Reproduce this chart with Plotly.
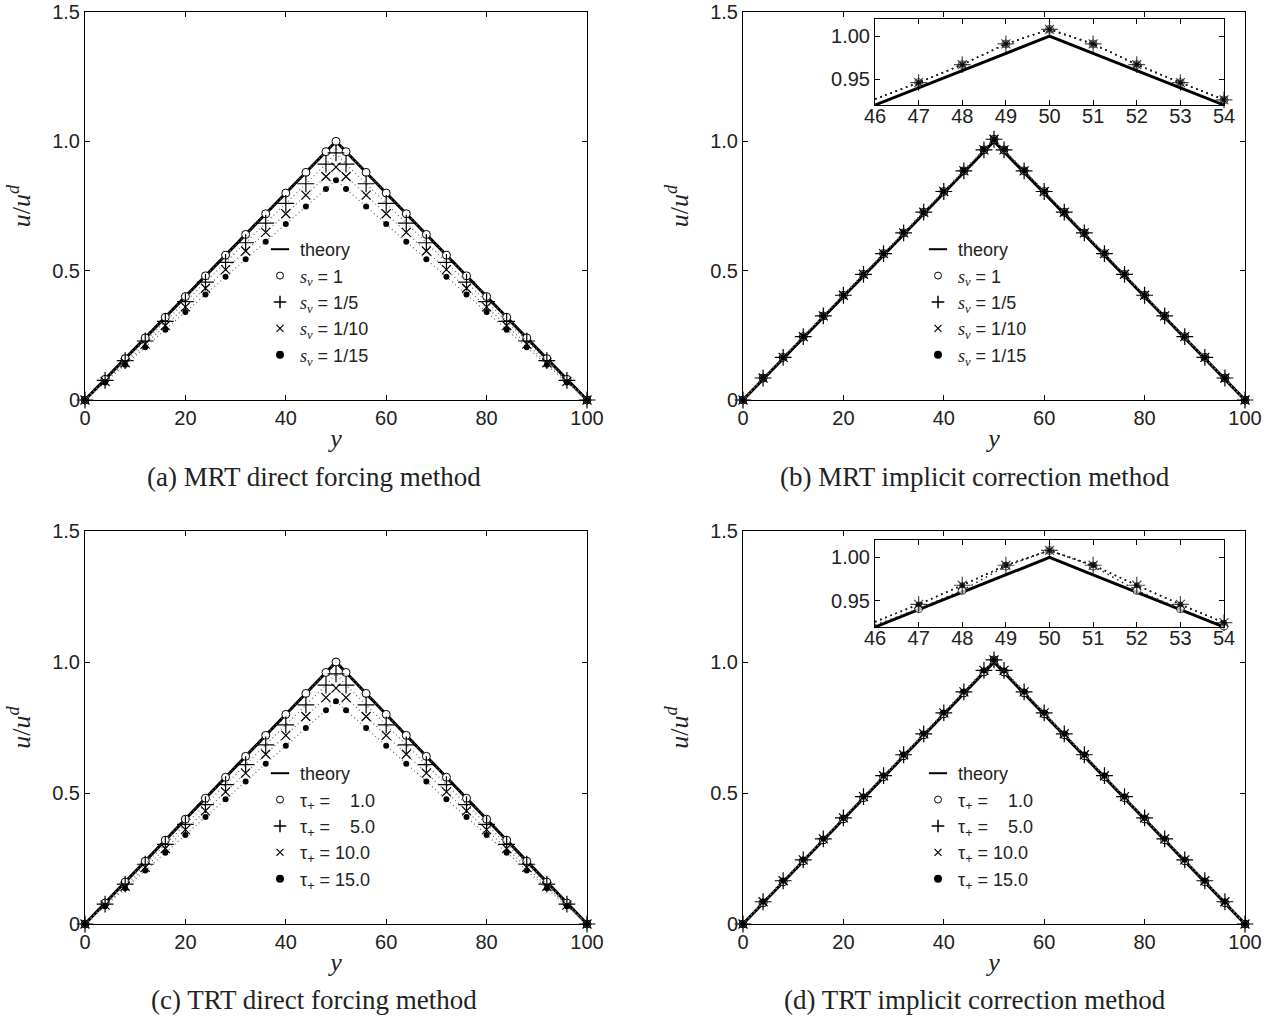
import plotly.graph_objects as go

# ---------------- data ----------------
# channel positions sampled in the main panels
Y = [0, 4, 8, 12, 16, 20, 24, 28, 32, 36, 40, 44, 48, 50, 52,
     56, 60, 64, 68, 72, 76, 80, 84, 88, 92, 96, 100]

theory = [0, 0.08, 0.16, 0.24, 0.32, 0.40, 0.48, 0.56, 0.64, 0.72, 0.80, 0.88, 0.96, 1.00, 0.96,
          0.88, 0.80, 0.72, 0.64, 0.56, 0.48, 0.40, 0.32, 0.24, 0.16, 0.08, 0]

# (a) MRT direct forcing
mrt_df_s1 = [0, 0.080, 0.160, 0.240, 0.320, 0.400, 0.480, 0.560, 0.640, 0.720, 0.800, 0.880, 0.960, 1.000, 0.960,
             0.880, 0.800, 0.720, 0.640, 0.560, 0.480, 0.400, 0.320, 0.240, 0.160, 0.080, 0]
mrt_df_s5 = [0, 0.076, 0.152, 0.228, 0.304, 0.380, 0.456, 0.532, 0.608, 0.684, 0.760, 0.836, 0.912, 0.955, 0.912,
             0.836, 0.760, 0.684, 0.608, 0.532, 0.456, 0.380, 0.304, 0.228, 0.152, 0.076, 0]
mrt_df_s10 = [0, 0.072, 0.144, 0.216, 0.288, 0.360, 0.432, 0.504, 0.576, 0.648, 0.720, 0.792, 0.864, 0.900, 0.864,
              0.792, 0.720, 0.648, 0.576, 0.504, 0.432, 0.360, 0.288, 0.216, 0.144, 0.072, 0]
mrt_df_s15 = [0, 0.068, 0.136, 0.204, 0.272, 0.340, 0.408, 0.476, 0.544, 0.612, 0.680, 0.748, 0.816, 0.850, 0.816,
              0.748, 0.680, 0.612, 0.544, 0.476, 0.408, 0.340, 0.272, 0.204, 0.136, 0.068, 0]

# (b) MRT implicit correction
mrt_ic_s1 = [0, 0.085, 0.165, 0.245, 0.325, 0.405, 0.486, 0.566, 0.646, 0.726, 0.806, 0.886, 0.967, 1.008, 0.967,
             0.886, 0.806, 0.726, 0.646, 0.566, 0.486, 0.405, 0.325, 0.245, 0.165, 0.085, 0]
mrt_ic_s5 = [0, 0.085, 0.165, 0.245, 0.325, 0.405, 0.486, 0.566, 0.646, 0.726, 0.806, 0.886, 0.967, 1.008, 0.967,
             0.886, 0.806, 0.726, 0.646, 0.566, 0.486, 0.405, 0.325, 0.245, 0.165, 0.085, 0]
mrt_ic_s10 = [0, 0.085, 0.165, 0.245, 0.325, 0.405, 0.486, 0.566, 0.646, 0.726, 0.806, 0.886, 0.967, 1.008, 0.967,
              0.886, 0.806, 0.726, 0.646, 0.566, 0.486, 0.405, 0.325, 0.245, 0.165, 0.085, 0]
mrt_ic_s15 = [0, 0.085, 0.165, 0.245, 0.325, 0.405, 0.486, 0.566, 0.646, 0.726, 0.806, 0.886, 0.967, 1.008, 0.967,
              0.886, 0.806, 0.726, 0.646, 0.566, 0.486, 0.405, 0.325, 0.245, 0.165, 0.085, 0]

# (c) TRT direct forcing
trt_df_t1 = [0, 0.080, 0.160, 0.240, 0.320, 0.400, 0.480, 0.560, 0.640, 0.720, 0.800, 0.880, 0.960, 1.000, 0.960,
             0.880, 0.800, 0.720, 0.640, 0.560, 0.480, 0.400, 0.320, 0.240, 0.160, 0.080, 0]
trt_df_t5 = [0, 0.076, 0.152, 0.228, 0.304, 0.380, 0.456, 0.532, 0.608, 0.684, 0.760, 0.836, 0.912, 0.955, 0.912,
             0.836, 0.760, 0.684, 0.608, 0.532, 0.456, 0.380, 0.304, 0.228, 0.152, 0.076, 0]
trt_df_t10 = [0, 0.072, 0.144, 0.216, 0.288, 0.360, 0.432, 0.504, 0.576, 0.648, 0.720, 0.792, 0.864, 0.900, 0.864,
              0.792, 0.720, 0.648, 0.576, 0.504, 0.432, 0.360, 0.288, 0.216, 0.144, 0.072, 0]
trt_df_t15 = [0, 0.068, 0.136, 0.204, 0.272, 0.340, 0.408, 0.476, 0.544, 0.612, 0.680, 0.748, 0.816, 0.850, 0.816,
              0.748, 0.680, 0.612, 0.544, 0.476, 0.408, 0.340, 0.272, 0.204, 0.136, 0.068, 0]

# (d) TRT implicit correction
trt_ic_t1 = [0, 0.081, 0.161, 0.241, 0.321, 0.401, 0.482, 0.562, 0.642, 0.722, 0.802, 0.882, 0.962, 1.008, 0.962,
             0.882, 0.802, 0.722, 0.642, 0.562, 0.482, 0.401, 0.321, 0.241, 0.161, 0.081, 0]
trt_ic_t5 = [0, 0.085, 0.165, 0.245, 0.325, 0.405, 0.486, 0.566, 0.646, 0.726, 0.806, 0.886, 0.968, 1.008, 0.968,
             0.886, 0.806, 0.726, 0.646, 0.566, 0.486, 0.405, 0.325, 0.245, 0.165, 0.085, 0]
trt_ic_t10 = [0, 0.085, 0.165, 0.245, 0.325, 0.405, 0.486, 0.566, 0.646, 0.726, 0.806, 0.886, 0.968, 1.008, 0.968,
              0.886, 0.806, 0.726, 0.646, 0.566, 0.486, 0.405, 0.325, 0.245, 0.165, 0.085, 0]
trt_ic_t15 = [0, 0.085, 0.165, 0.245, 0.325, 0.405, 0.486, 0.566, 0.646, 0.726, 0.806, 0.886, 0.968, 1.008, 0.968,
              0.886, 0.806, 0.726, 0.646, 0.566, 0.486, 0.405, 0.325, 0.245, 0.165, 0.085, 0]

# zoomed peak region (insets)
Y_in = [46, 47, 48, 49, 50, 51, 52, 53, 54]
theory_in = [0.92, 0.94, 0.96, 0.98, 1.00, 0.98, 0.96, 0.94, 0.92]
mrt_ic_in = [0.927, 0.946, 0.967, 0.991, 1.008, 0.991, 0.967, 0.946, 0.926]
trt_ic_in_t1 = [0.922, 0.941, 0.962, 0.990, 1.008, 0.990, 0.962, 0.941, 0.921]
trt_ic_in_rest = [0.926, 0.946, 0.968, 0.991, 1.008, 0.991, 0.968, 0.946, 0.925]

x_ticks = [0, 20, 40, 60, 80, 100]
y_ticks = [0, 0.5, 1.0, 1.5]
y_tick_text = ["0", "0.5", "1.0", "1.5"]
in_x_ticks = [46, 47, 48, 49, 50, 51, 52, 53, 54]
in_y_ticks = [0.95, 1.00]
in_y_tick_text = ["0.95", "1.00"]

sv_labels = ["1", "1/5", "1/10", "1/15"]
tau_labels = ["\u00a0\u00a0\u00a01.0", "\u00a0\u00a0\u00a05.0", "10.0", "15.0"]
captions = ["(a) MRT direct forcing method", "(b) MRT implicit correction method",
            "(c) TRT direct forcing method", "(d) TRT implicit correction method"]

# ---------------- styling ----------------
W, H = 1288, 1019
SANS = "Liberation Sans, Arial, sans-serif"
SERIF = "Liberation Serif, Times New Roman, serif"
INK = "#222222"


def fx(p):
    return p / W


def fy(p):
    return 1 - p / H


MARKERS = [
    dict(symbol="circle", size=8, color="white", line=dict(color="black", width=1)),
    dict(symbol="cross-thin", size=12, color="black", line=dict(color="black", width=1.2)),
    dict(symbol="x-thin", size=9, color="black", line=dict(color="black", width=1.2)),
    dict(symbol="circle", size=6, color="black", line=dict(color="black", width=0)),
]
LEG_THEORY = dict(symbol="line-ew", size=13, color="black", line=dict(color="black", width=2))
LEG_MARKERS = [
    dict(symbol="circle", size=7, color="white", line=dict(color="black", width=1)),
    dict(symbol="cross-thin", size=9, color="black", line=dict(color="black", width=1.5)),
    dict(symbol="x-thin", size=7, color="black", line=dict(color="black", width=1.2)),
    dict(symbol="circle", size=8, color="black", line=dict(color="black", width=0)),
]
DOT_LINE = dict(color="#666666", width=1.2, dash="1px,3px")
DOT_LINE_IN = dict(color="#222222", width=1.5, dash="1.5px,4px")


def sv_name(v):
    return ("<span style='font-family:Liberation Serif'><i>s</i><sub><i>v</i></sub></span>"
            " = " + v)


def tau_name(v):
    return "\u03c4<sub>+</sub> = " + v


fig = go.Figure()

panels = [
    ("x", "y", "legend", [mrt_df_s1, mrt_df_s5, mrt_df_s10, mrt_df_s15], [sv_name(s) for s in sv_labels]),
    ("x2", "y2", "legend2", [mrt_ic_s1, mrt_ic_s5, mrt_ic_s10, mrt_ic_s15], [sv_name(s) for s in sv_labels]),
    ("x3", "y3", "legend3", [trt_df_t1, trt_df_t5, trt_df_t10, trt_df_t15], [tau_name(t) for t in tau_labels]),
    ("x4", "y4", "legend4", [trt_ic_t1, trt_ic_t5, trt_ic_t10, trt_ic_t15], [tau_name(t) for t in tau_labels]),
]

for xa, ya, leg, series, names in panels:
    fig.add_trace(go.Scatter(x=Y, y=theory, mode="lines", xaxis=xa, yaxis=ya,
                             line=dict(color="black", width=3), showlegend=False,
                             cliponaxis=False, hoverinfo="skip"))
    for vals, mk in zip(series, MARKERS):
        fig.add_trace(go.Scatter(x=Y, y=vals, mode="lines+markers", xaxis=xa, yaxis=ya,
                                 line=DOT_LINE, marker=mk, showlegend=False,
                                 cliponaxis=False))
    # legend entries
    fig.add_trace(go.Scatter(x=[None], y=[None], mode="markers", xaxis=xa, yaxis=ya,
                             marker=LEG_THEORY, name="theory", legend=leg))
    for nm, mk in zip(names, LEG_MARKERS):
        fig.add_trace(go.Scatter(x=[None], y=[None], mode="markers", xaxis=xa, yaxis=ya,
                                 marker=mk, name=nm, legend=leg))

# insets around the peak
insets = [
    ("x5", "y5", [mrt_ic_in, mrt_ic_in, mrt_ic_in, mrt_ic_in]),
    ("x6", "y6", [trt_ic_in_t1, trt_ic_in_rest, trt_ic_in_rest, trt_ic_in_rest]),
]
for xa, ya, series in insets:
    fig.add_trace(go.Scatter(x=Y_in, y=theory_in, mode="lines", xaxis=xa, yaxis=ya,
                             line=dict(color="black", width=3), showlegend=False,
                             cliponaxis=True, hoverinfo="skip"))
    for vals, mk in zip(series, MARKERS):
        m = dict(mk)
        m["size"] = [0] + [mk["size"]] * (len(Y_in) - 1)
        fig.add_trace(go.Scatter(x=Y_in, y=vals, mode="lines+markers", xaxis=xa, yaxis=ya,
                                 line=DOT_LINE_IN, marker=m, showlegend=False,
                                 cliponaxis=False))

axis_common = dict(showline=True, linecolor="black", linewidth=1, mirror="ticks",
                   ticks="inside", ticklen=5, tickcolor="black", showgrid=False,
                   zeroline=False, automargin=False, ticklabeloverflow="allow",
                   tickfont=dict(family=SANS, size=20, color=INK))

x_dom = [[fx(85), fx(587)], [fx(743), fx(1245)]]
y_dom = [[fy(400), fy(12)], [fy(924), fy(531)]]

layout_axes = {}
for i, (col, row) in enumerate([(0, 0), (1, 0), (0, 1), (1, 1)]):
    n = "" if i == 0 else str(i + 1)
    layout_axes["xaxis" + n] = dict(
        axis_common, domain=x_dom[col], anchor="y" + n, range=[0, 100],
        tickvals=x_ticks, ticktext=[str(t) for t in x_ticks],
        title=dict(text="<i>y</i>", font=dict(family=SERIF, size=26, color=INK), standoff=0))
    layout_axes["yaxis" + n] = dict(
        axis_common, domain=y_dom[row], anchor="x" + n, range=[0, 1.5],
        tickvals=y_ticks, ticktext=y_tick_text,
        title=dict(text="<i>u</i>/<i>u</i><sup><i>d</i></sup>",
                   font=dict(family=SERIF, size=26, color=INK), standoff=14))

in_x_dom = [fx(875), fx(1224)]
for n, ydom in [("5", [fy(105), fy(19)]), ("6", [fy(627), fy(540)])]:
    layout_axes["xaxis" + n] = dict(axis_common, domain=in_x_dom, anchor="y" + n, range=[46, 54],
                                    tickvals=in_x_ticks, ticktext=[str(t) for t in in_x_ticks],
                                    ticklabelstandoff=-7)
    layout_axes["yaxis" + n] = dict(axis_common, domain=ydom, anchor="x" + n, range=[0.92, 1.02],
                                    tickvals=in_y_ticks, ticktext=in_y_tick_text)

legend_common = dict(xanchor="left", yanchor="top", bgcolor="rgba(0,0,0,0)", borderwidth=0,
                     font=dict(family=SANS, size=18, color=INK), itemwidth=30,
                     tracegroupgap=0)
legends = {
    "legend": dict(legend_common, x=fx(260), y=fy(231)),
    "legend2": dict(legend_common, x=fx(918), y=fy(231)),
    "legend3": dict(legend_common, x=fx(260), y=fy(755)),
    "legend4": dict(legend_common, x=fx(918), y=fy(755)),
}

caption_pos = [(fx(314), fy(477)), (fx(975), fy(477)), (fx(314), fy(1000)), (fx(975), fy(1000))]
annotations = [dict(text=c, x=px_, y=py_, xref="paper", yref="paper", showarrow=False,
                    xanchor="center", yanchor="middle",
                    font=dict(family=SERIF, size=27, color=INK))
               for c, (px_, py_) in zip(captions, caption_pos)]

fig.update_layout(
    width=W, height=H, margin=dict(l=0, r=0, t=0, b=0, autoexpand=False),
    paper_bgcolor="white", plot_bgcolor="white",
    annotations=annotations, **layout_axes, **legends,
)

fig.write_html("out.html")
